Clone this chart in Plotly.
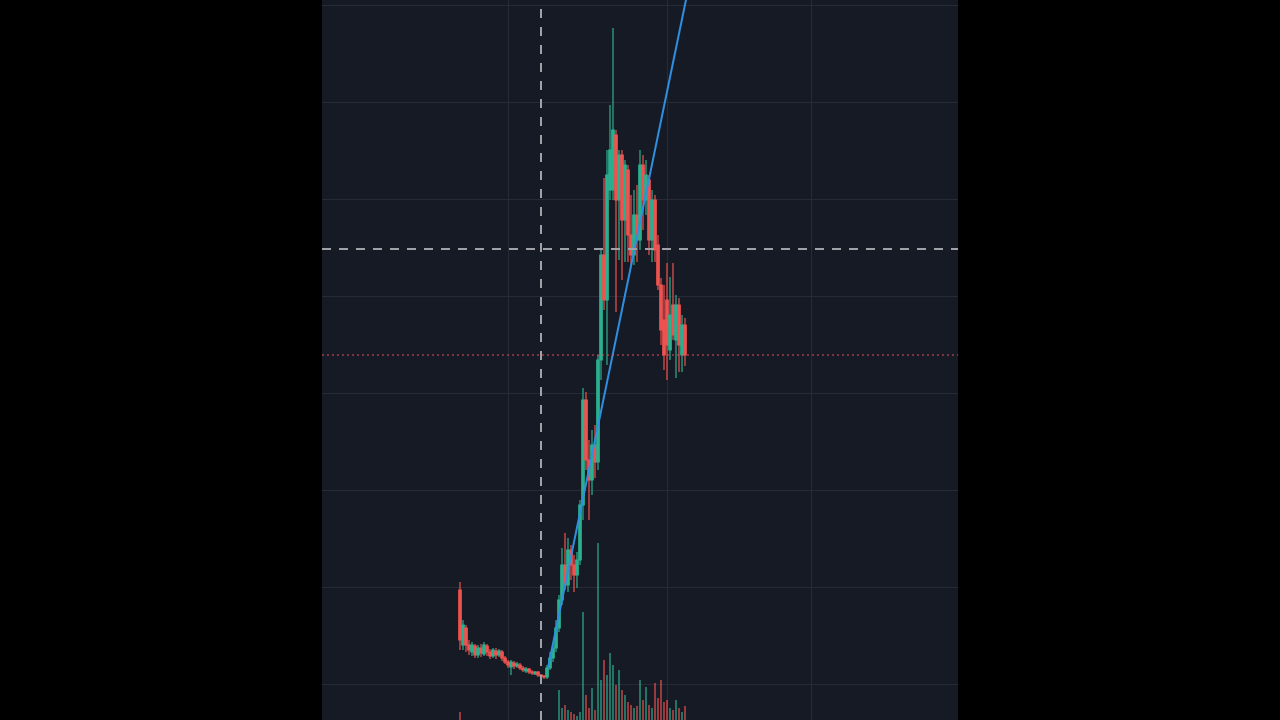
import plotly.graph_objects as go

# ---- data (price units, bar index) ----
bars = list(range(76))
opens = [1.30, 0.75, 0.92, 0.75, 0.68, 0.74, 0.65, 0.72, 0.66, 0.74,
         0.68, 0.64, 0.69, 0.65, 0.68, 0.62, 0.58, 0.53, 0.57, 0.54,
         0.55, 0.52, 0.49, 0.51, 0.48, 0.46, 0.48, 0.45, 0.44, 0.43,
         0.52, 0.62, 0.72, 0.92, 1.20, 1.55, 1.35, 1.70, 1.55, 1.45,
         1.60, 2.15, 3.20, 2.60, 2.40, 2.75, 2.58, 3.60, 4.65, 4.20,
         5.30, 5.30, 5.85, 5.20, 5.65, 5.00, 5.50, 4.85, 4.65, 5.05,
         4.80, 5.55, 5.20, 5.40, 4.80, 5.20, 4.75, 4.35, 4.00, 4.20,
         3.70, 4.15, 3.80, 4.15, 3.65, 3.95]
highs = [1.38, 1.00, 0.95, 0.80, 0.78, 0.76, 0.75, 0.76, 0.78, 0.76,
         0.71, 0.72, 0.72, 0.71, 0.70, 0.64, 0.60, 0.60, 0.59, 0.58,
         0.57, 0.54, 0.53, 0.52, 0.50, 0.49, 0.49, 0.46, 0.45, 0.55,
         0.68, 0.75, 1.00, 1.25, 1.72, 1.87, 1.82, 1.75, 1.65, 1.68,
         2.20, 3.32, 3.28, 2.80, 2.90, 2.95, 3.65, 4.72, 5.42, 5.70,
         6.15, 6.92, 5.90, 5.70, 5.70, 5.60, 5.55, 5.25, 5.30, 5.35,
         5.70, 5.65, 5.60, 5.45, 5.30, 5.25, 4.85, 4.42, 4.35, 4.57,
         4.43, 4.57, 4.25, 4.22, 4.05, 4.02]
lows = [0.70, 0.70, 0.68, 0.65, 0.64, 0.62, 0.62, 0.63, 0.64, 0.64,
        0.61, 0.62, 0.61, 0.63, 0.59, 0.56, 0.52, 0.45, 0.51, 0.52,
        0.50, 0.48, 0.47, 0.46, 0.45, 0.45, 0.43, 0.42, 0.41, 0.41,
        0.50, 0.58, 0.68, 0.88, 1.15, 1.30, 1.28, 1.40, 1.28, 1.32,
        1.55, 2.00, 2.50, 2.00, 2.25, 2.42, 2.50, 3.40, 4.10, 3.55,
        5.20, 5.20, 4.08, 4.60, 4.40, 4.58, 4.58, 4.55, 4.55, 4.58,
        4.70, 4.90, 5.05, 4.65, 4.58, 4.58, 4.30, 3.75, 3.50, 3.40,
        3.60, 3.80, 3.42, 3.48, 3.48, 3.54]
closes = [0.80, 0.95, 0.75, 0.70, 0.75, 0.65, 0.72, 0.67, 0.75, 0.68,
          0.64, 0.70, 0.65, 0.69, 0.62, 0.58, 0.55, 0.58, 0.54, 0.56,
          0.52, 0.50, 0.51, 0.48, 0.47, 0.48, 0.45, 0.44, 0.43, 0.52,
          0.62, 0.72, 0.92, 1.20, 1.55, 1.35, 1.70, 1.55, 1.45, 1.60,
          2.15, 3.20, 2.60, 2.40, 2.75, 2.58, 3.60, 4.65, 4.20, 5.45,
          5.70, 5.90, 5.20, 5.65, 5.00, 5.55, 4.85, 4.65, 5.05, 4.80,
          5.55, 5.20, 5.45, 4.80, 5.20, 4.70, 4.35, 3.90, 3.65, 3.75,
          4.05, 3.85, 4.15, 3.75, 3.95, 3.65]
volumes = [8, 0, 0, 0, 0, 0, 0, 0, 0, 0,
           0, 0, 0, 0, 0, 0, 0, 0, 0, 0,
           0, 0, 0, 0, 0, 0, 0, 0, 0, 0,
           0, 0, 0, 30, 12, 15, 10, 8, 6, 4,
           8, 108, 25, 12, 32, 10, 177, 40, 60, 45,
           67, 55, 35, 50, 30, 25, 18, 15, 12, 14,
           40, 20, 33, 15, 12, 37, 22, 40, 18, 20,
           12, 10, 20, 12, 8, 14]

trend_x = [29.33, 80.0]
trend_y = [0.52, 7.88]
crosshair_bar = 27
crosshair_price = 4.71
grid_prices = [0.36, 1.33, 2.30, 3.27, 4.24, 5.21, 6.18, 7.15]
grid_bars = [16, 69.3, 117]

UP = "#2bb08f"
DOWN = "#ef5350"
UP_VOL = "rgba(43,176,143,0.6)"
DOWN_VOL = "rgba(239,83,80,0.6)"

vol_colors = [UP_VOL if c >= o else DOWN_VOL for o, c in zip(opens, closes)]

fig = go.Figure()
fig.add_trace(go.Bar(x=bars, y=volumes, yaxis="y2", marker=dict(color=vol_colors, line=dict(width=0)),
                     width=0.7, hoverinfo="skip"))
fig.add_trace(go.Candlestick(
    x=bars, open=opens, high=highs, low=lows, close=closes,
    increasing=dict(line=dict(color=UP, width=1.2), fillcolor=UP),
    decreasing=dict(line=dict(color=DOWN, width=1.2), fillcolor=DOWN),
    whiskerwidth=0,
))
fig.add_trace(go.Scatter(x=trend_x, y=trend_y, mode="lines",
                         line=dict(color="#2f8fe0", width=2), hoverinfo="skip"))

# last price line (dotted red)
fig.add_hline(y=closes[-1], line=dict(color="#e0525e", width=1, dash="2px,3px"))
# crosshair
fig.add_hline(y=crosshair_price, line=dict(color="#a0a2a8", width=2, dash="9px,8px"))
fig.add_vline(x=crosshair_bar, line=dict(color="#a0a2a8", width=2, dash="9px,9px"))

fig.update_layout(
    width=1280, height=720,
    margin=dict(l=322, r=322, t=0, b=0),
    paper_bgcolor="#000000",
    plot_bgcolor="#161a25",
    showlegend=False,
    bargap=0,
    boxgap=0.1,
    boxgroupgap=0.1,
    xaxis=dict(range=[-46, 166], tickvals=grid_bars, showticklabels=False,
               showgrid=True, gridcolor="#262b36", gridwidth=1, zeroline=False,
               showline=False, rangeslider=dict(visible=False), fixedrange=True),
    yaxis=dict(range=[0, 7.2], tickvals=grid_prices, showticklabels=False,
               showgrid=True, gridcolor="#262b36", gridwidth=1, zeroline=False,
               showline=False, fixedrange=True),
    yaxis2=dict(range=[0, max(volumes) / 0.246], overlaying="y", visible=False,
                showgrid=False, zeroline=False, fixedrange=True),
)

fig.write_html("out.html")
